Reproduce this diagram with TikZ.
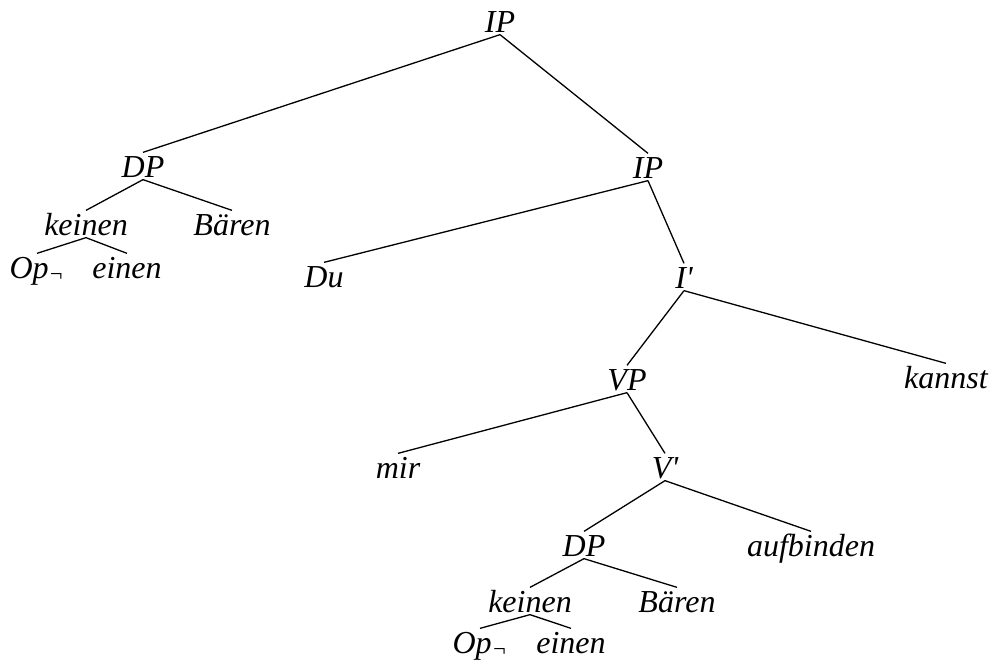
\documentclass[tikz,border=0pt]{standalone}
\usepackage{fontspec}
\setmainfont{Liberation Serif}
\usepackage{tikz}

\begin{document}
\begin{tikzpicture}[x=1pt, y=-1pt, line width=1.3pt,
  cat/.style={font=\fontsize{32}{38}\selectfont\itshape, inner sep=0pt, text height=24pt, text depth=2pt, anchor=base}]
  \useasboundingbox (0,0) rectangle (996,662);
  % top
  \node[cat] (ip) at (500,32) {IP};
  \node[cat] (dpa) at (143,177) {DP};
  \node[cat] (ipb) at (648,178) {IP};
  % left DP
  \node[cat] (keinena) at (86,235) {keinen};
  \node[cat] (baerena) at (232,235) {Bären};
  \node[cat] (opa) at (37,278) {Op\textsubscript{¬}};
  \node[cat] (einena) at (127,278) {einen};
  % right IP
  \node[cat] (du) at (324,287) {Du};
  \node[cat] (ibar) at (684,288) {I\textquotesingle};
  \node[cat] (vp) at (627,390) {VP};
  \node[cat] (kannst) at (946,388) {kannst};
  \node[cat] (mir) at (398,478) {mir};
  \node[cat] (vbar) at (665,478) {V\textquotesingle};
  \node[cat] (dpb) at (584,556) {DP};
  \node[cat] (aufbinden) at (811,556) {aufbinden};
  \node[cat] (keinenb) at (530,612) {keinen};
  \node[cat] (baerenb) at (677,612) {Bären};
  \node[cat] (opb) at (480,653) {Op\textsubscript{¬}};
  \node[cat] (einenb) at (571,653) {einen};

  \draw (ip.south) -- (dpa.north) (ip.south) -- (ipb.north);
  \draw (dpa.south) -- (keinena.north) (dpa.south) -- (baerena.north);
  \draw (keinena.south) -- (opa.north) (keinena.south) -- (einena.north);
  \draw (ipb.south) -- (du.north) (ipb.south) -- (ibar.north);
  \draw (ibar.south) -- (vp.north) (ibar.south) -- (kannst.north);
  \draw (vp.south) -- (mir.north) (vp.south) -- (vbar.north);
  \draw (vbar.south) -- (dpb.north) (vbar.south) -- (aufbinden.north);
  \draw (dpb.south) -- (keinenb.north) (dpb.south) -- (baerenb.north);
  \draw (keinenb.south) -- (opb.north) (keinenb.south) -- (einenb.north);
\end{tikzpicture}
\end{document}
